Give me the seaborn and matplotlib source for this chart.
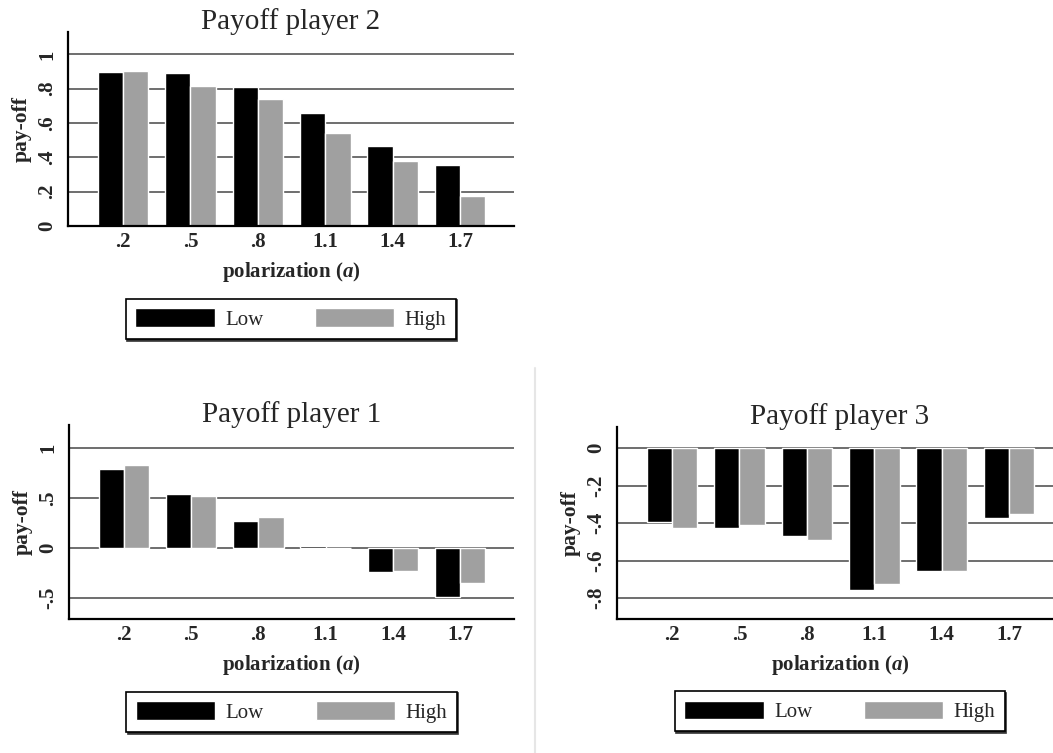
import pandas as pd
import matplotlib
matplotlib.use('Agg')
import matplotlib.pyplot as plt
import seaborn as sns
from matplotlib.lines import Line2D

# polarization levels on the x axis
alpha_labels = ['.2', '.5', '.8', '1.1', '1.4', '1.7']
levels = ['Low', 'High']

# payoffs
p2_low = [0.895, 0.893, 0.807, 0.659, 0.467, 0.358]
p2_high = [0.903, 0.815, 0.739, 0.539, 0.377, 0.175]
p1_low = [0.787, 0.537, 0.267, 0.017, -0.243, -0.493]
p1_high = [0.827, 0.520, 0.313, 0.0, -0.230, -0.347]
p3_low = [-0.394, -0.426, -0.468, -0.759, -0.658, -0.372]
p3_high = [-0.424, -0.411, -0.493, -0.723, -0.658, -0.351]

p2_ticks = [0, .2, .4, .6, .8, 1]
p2_ticklabels = ['0', '.2', '.4', '.6', '.8', '1']
p1_ticks = [-.5, 0, .5, 1]
p1_ticklabels = ['-.5', '0', '.5', '1']
p3_ticks = [0, -.2, -.4, -.6, -.8]
p3_ticklabels = ['0', '-.2', '-.4', '-.6', '-.8']

sns.set_style('white')
plt.rcParams['font.family'] = ['Liberation Serif', 'DejaVu Serif']
plt.rcParams['mathtext.fontset'] = 'custom'
plt.rcParams['mathtext.rm'] = 'Liberation Serif:bold'
plt.rcParams['mathtext.it'] = 'Liberation Serif:italic:bold'

W, H = 1053, 753
fig = plt.figure(figsize=(W / 100, H / 100), dpi=100)
fig.patch.set_facecolor('white')


def make_df(low, high):
    return pd.DataFrame({
        'alpha': alpha_labels * 2,
        'payoff': list(low) + list(high),
        'level': ['Low'] * len(low) + ['High'] * len(high),
    })


def panel(box, title, low, high, ylim, ticks, ticklabels):
    x0, y0, x1, y1 = box
    ax = fig.add_axes([x0 / W, 1 - y1 / H, (x1 - x0) / W, (y1 - y0) / H])
    sns.barplot(data=make_df(low, high), x='alpha', y='payoff', hue='level',
                order=alpha_labels, hue_order=levels,
                palette=['black', '#a0a0a0'], saturation=1, width=0.75,
                gap=0, errorbar=None, ax=ax)
    ax.set_xlim(-0.816, 5.8)
    ax.set_ylim(*ylim)
    ax.set_yticks(ticks)
    ax.set_yticklabels(ticklabels, rotation=90, va='center',
                       fontweight='bold', fontsize=15)
    ax.set_xticks(range(len(alpha_labels)))
    ax.set_xticklabels(alpha_labels, fontweight='bold', fontsize=15)
    ax.tick_params(axis='x', length=0, pad=4)
    ax.tick_params(axis='y', length=4, width=1.3, pad=4, color='black')
    ax.yaxis.grid(True, color='#555555', lw=1.2)
    ax.set_axisbelow(True)
    for s in ['top', 'right']:
        ax.spines[s].set_visible(False)
    for s in ['left', 'bottom']:
        ax.spines[s].set_color('black')
        ax.spines[s].set_linewidth(1.6)
    ax.set_xlabel(r'polarization ($\mathit{a}$)', fontsize=15,
                  fontweight='bold', labelpad=6)
    ax.set_ylabel('pay-off', fontsize=15.5, fontweight='bold', labelpad=4)
    ax.set_title(title, fontsize=21, pad=2)
    sns.move_legend(ax, 'upper center', bbox_to_anchor=(0.5, -0.376),
                    ncol=2, title=None, frameon=True, fontsize=15,
                    handlelength=3.8, handleheight=1.0, handletextpad=0.5,
                    columnspacing=2.5, borderpad=0.45, borderaxespad=0,
                    fancybox=False, edgecolor='black', framealpha=1,
                    shadow={'ox': 1, 'oy': -1, 'color': '#333333', 'alpha': 1})
    ax.get_legend().get_frame().set_linewidth(1.2)
    return ax


panel((68, 32, 514, 226), 'Payoff player 2', p2_low, p2_high,
      (0, 1.13), p2_ticks, p2_ticklabels)
panel((69, 425, 514, 619), 'Payoff player 1', p1_low, p1_high,
      (-0.71, 1.23), p1_ticks, p1_ticklabels)
panel((617, 427, 1063, 619), 'Payoff player 3', p3_low, p3_high,
      (-0.912, 0.112), p3_ticks, p3_ticklabels)

# thin light separator between the two bottom graphs
fig.add_artist(Line2D([535 / W, 535 / W], [0, 1 - 368 / H],
                      color='#e6e6e6', lw=1.5))

fig.savefig('out.png', dpi=100, facecolor='white')
